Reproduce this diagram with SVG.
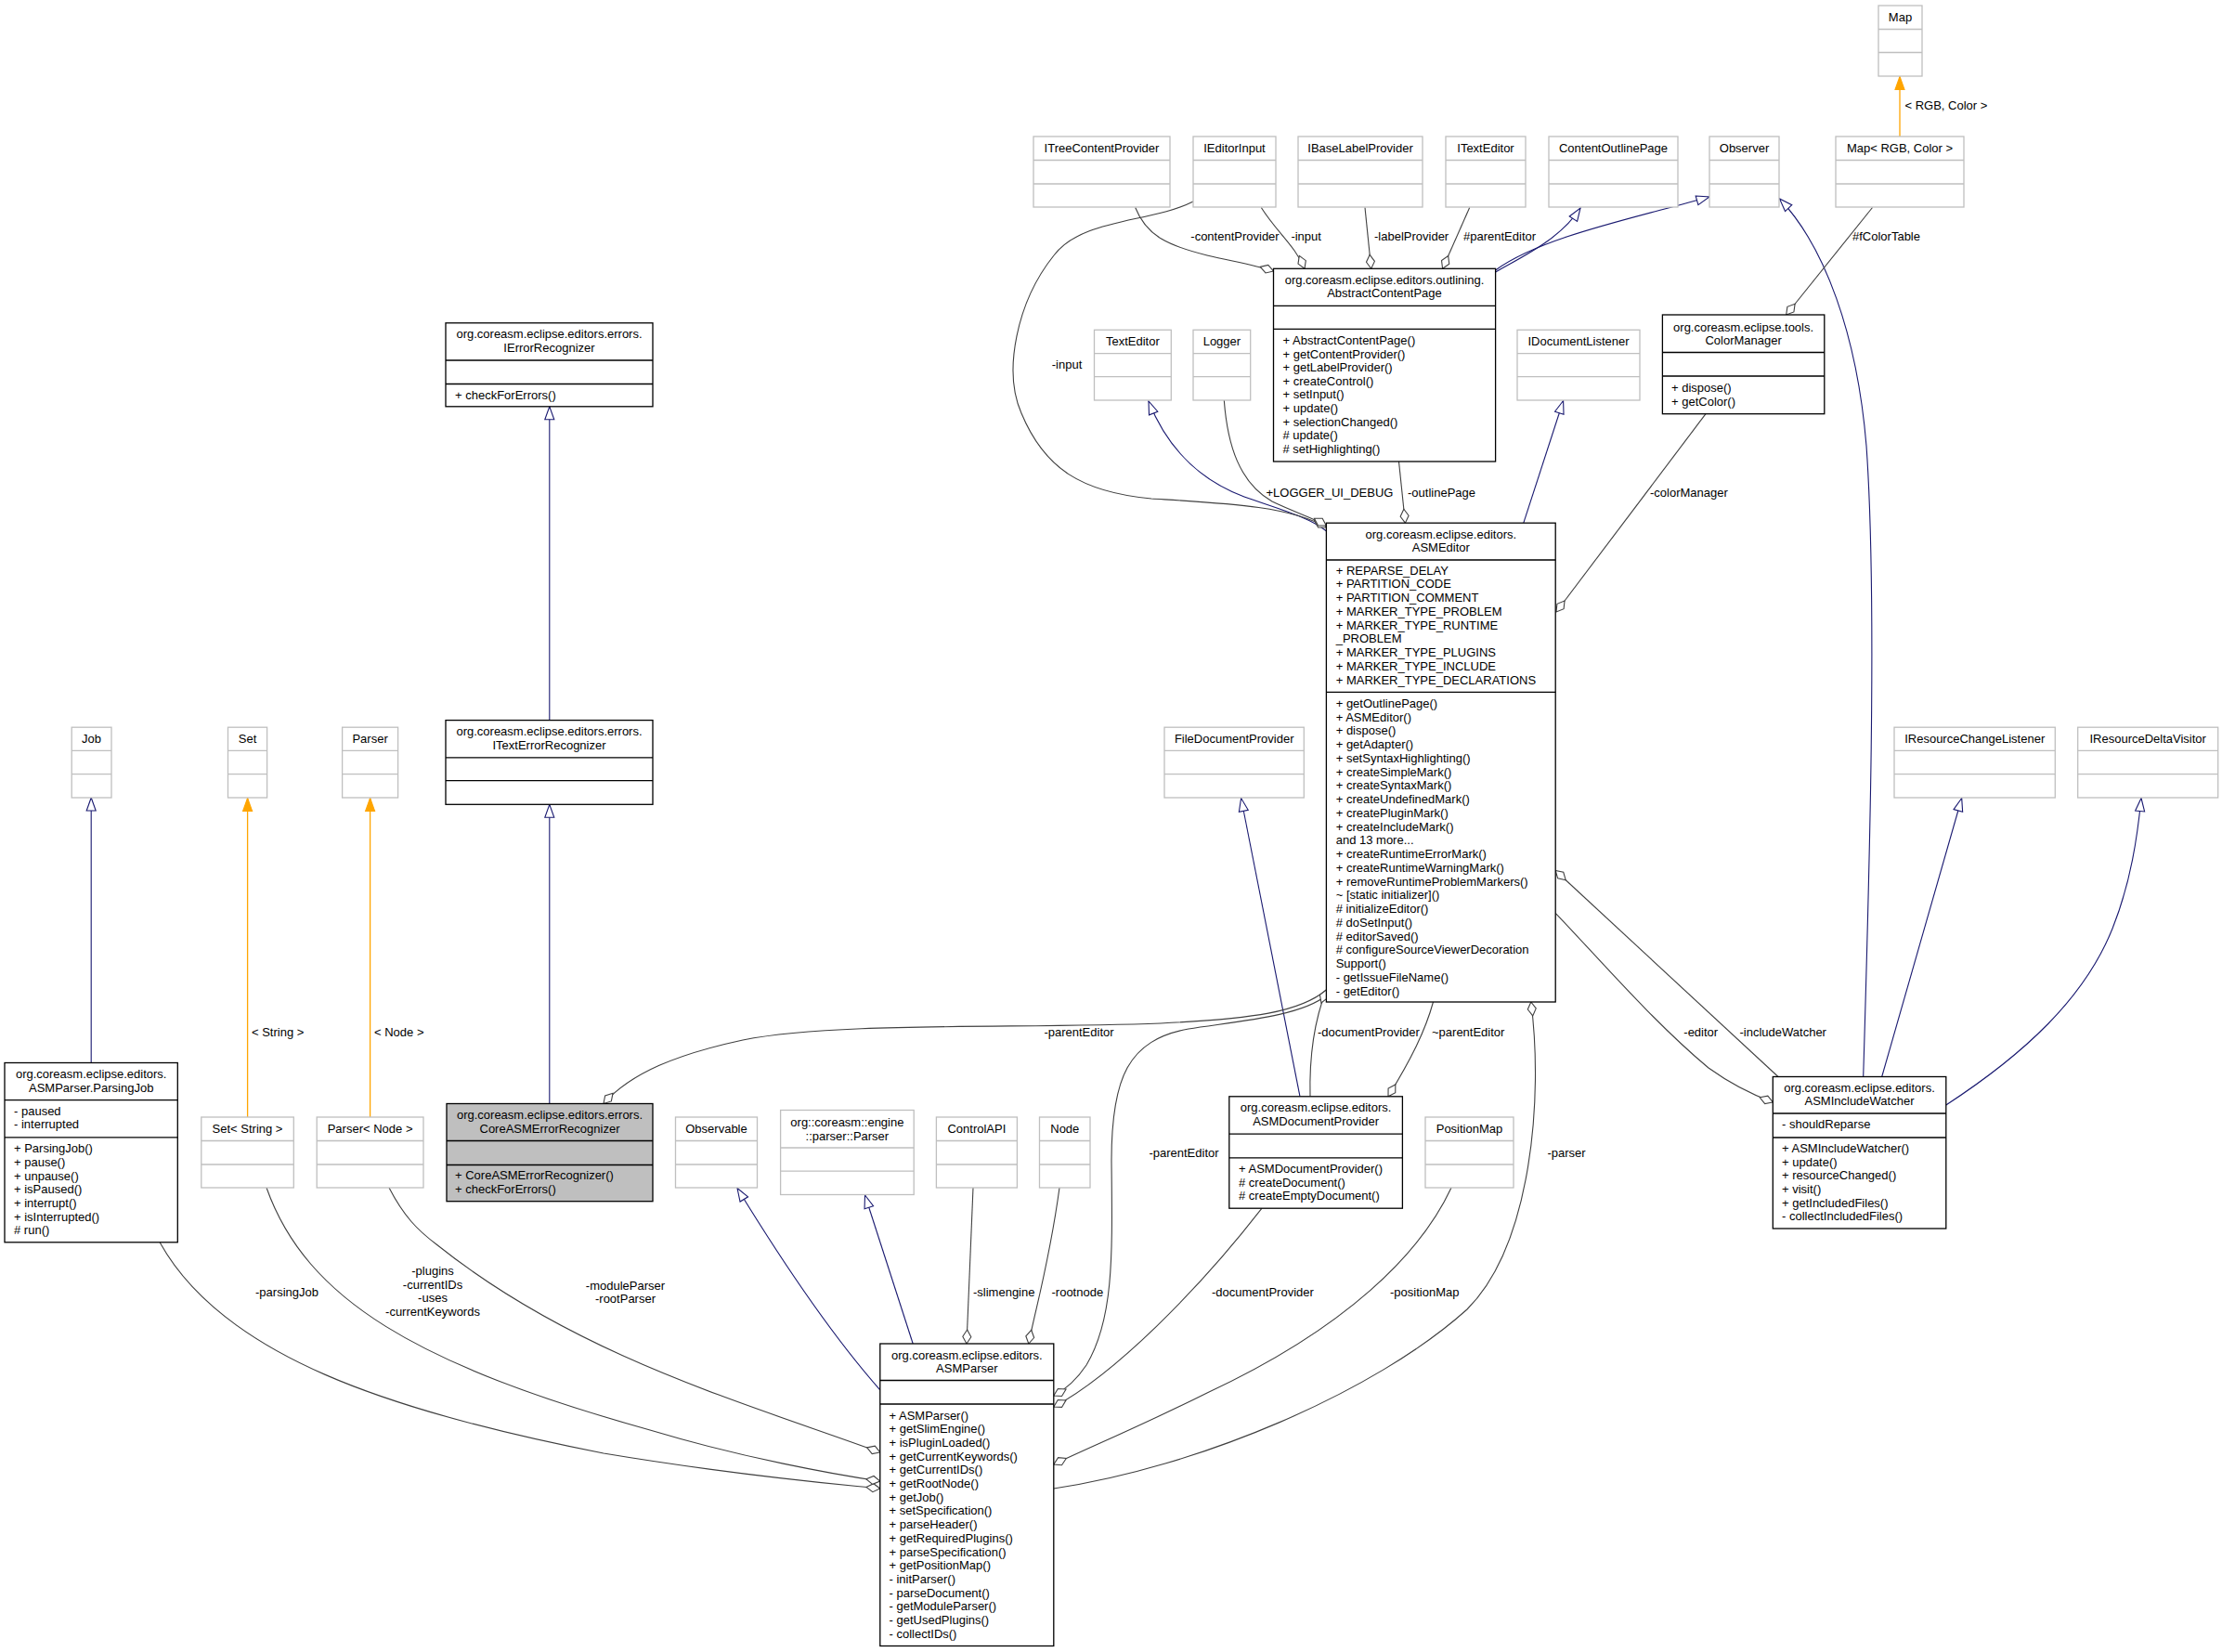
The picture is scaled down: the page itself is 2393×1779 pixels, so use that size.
<svg xmlns="http://www.w3.org/2000/svg" width="2393" height="1779" viewBox="0 0 2393 1779">
<style>
text { font-family: "Liberation Sans", Arial, sans-serif; font-size: 13px; fill: #000; }
.hd { text-anchor: middle; }
.mid { text-anchor: middle; }
.ext rect, .ext line { stroke: #bfbfbf; stroke-width: 1.3; fill: #fff; }
.cls rect, .cls line { stroke: #000; stroke-width: 1.3; fill: #fff; }
.cls rect.sel { fill: #bfbfbf; }
.assoc { stroke: #404040; stroke-width: 1.1; fill: none; marker-end: url(#dia); }
.inh { stroke: #191970; stroke-width: 1.1; fill: none; marker-end: url(#tri); }
.tpl { stroke: #FFA500; stroke-width: 1.3; fill: none; marker-end: url(#otri); }
</style>
<defs>
<marker id="tri" markerUnits="userSpaceOnUse" viewBox="0 0 16 12" markerWidth="16" markerHeight="12" refX="15" refY="6" orient="auto" overflow="visible"><path d="M1,1 L15,6 L1,11 Z" fill="#fff" stroke="#191970" stroke-width="1.1"/></marker>
<marker id="otri" markerUnits="userSpaceOnUse" viewBox="0 0 16 12" markerWidth="16" markerHeight="12" refX="15" refY="6" orient="auto" overflow="visible"><path d="M1,1 L15,6 L1,11 Z" fill="#FFA500" stroke="#FFA500" stroke-width="1.1"/></marker>
<marker id="dia" markerUnits="userSpaceOnUse" viewBox="0 0 17 11" markerWidth="17" markerHeight="11" refX="16" refY="5.5" orient="auto" overflow="visible"><path d="M1,5.5 L8.5,1 L16,5.5 L8.5,10 Z" fill="#fff" stroke="#404040" stroke-width="1.1"/></marker>
</defs>
<rect width="2393" height="1779" fill="#fff"/>

<g id="edges">
<!-- inheritance -->
<path class="inh" d="M1610.6,293 C1640,276 1680,258 1702,224"/>
<path class="inh" d="M1610.6,291 C1660,255 1760,235 1841,212"/>
<path class="inh" d="M1428.3,571.7 C1410,557 1380,549 1340,535 C1300,520 1260,490 1237,432"/>
<path class="inh" d="M1640.8,563.2 L1683.6,431.5"/>
<path class="inh" d="M591.8,1188.5 L591.8,866.3"/>
<path class="inh" d="M591.8,775.6 L591.8,437.8"/>
<path class="inh" d="M98.2,1144.5 L98.2,859"/>
<path class="inh" d="M1400,1180.8 L1336.6,859.5"/>
<path class="inh" d="M947.8,1496.8 Q880,1420 794,1279.5"/>
<path class="inh" d="M983.2,1447 L931.5,1287"/>
<path class="inh" d="M2006.7,1159.5 C2013,950 2022,650 2010,480 C2000,360 1965,265 1916.5,214"/>
<path class="inh" d="M2026.7,1159.5 L2112.7,859.5"/>
<path class="inh" d="M2095.8,1190 C2180,1135 2245,1075 2275,1000 C2295,950 2302,900 2306,859.5"/>
<!-- template -->
<path class="tpl" d="M266.6,1203 L266.6,859.5"/>
<path class="tpl" d="M398.6,1203 L398.6,859.5"/>
<path class="tpl" d="M2046,147 L2046,82.5"/>
<!-- associations -->
<path class="assoc" d="M1222.7,223.5 C1235,255 1260,265 1300,275 C1330,282 1350,285 1371.5,292"/>
<path class="assoc" d="M1358.3,223.5 C1375,250 1395,265 1405,289.3"/>
<path class="assoc" d="M1470,223.5 L1476.7,289.3"/>
<path class="assoc" d="M1582.7,223.5 L1553.6,289.3"/>
<path class="assoc" d="M2016.5,223.5 L1923.7,339"/>
<path class="assoc" d="M1285,217 C1240,240 1165,235 1135,275 C1095,325 1080,400 1100,445 C1125,505 1165,530 1240,537 C1320,542 1390,545 1428.3,568"/>
<path class="assoc" d="M1318.3,431 C1322,480 1335,520 1370,540 C1395,552 1415,558 1428.3,566"/>
<path class="assoc" d="M1506.5,497 L1513.4,563.2"/>
<path class="assoc" d="M1837,445.7 L1676,659"/>
<path class="assoc" d="M1428.4,1066 C1400,1090 1350,1097 1250,1102 C1100,1108 900,1100 800,1120 C730,1135 680,1155 650,1188.5"/>
<path class="assoc" d="M1428.4,1072 C1400,1095 1330,1100 1280,1108 C1215,1120 1197,1160 1197,1250 C1198,1350 1200,1420 1170,1470 C1160,1485 1150,1495 1134.8,1503"/>
<path class="assoc" d="M1411,1180.8 C1410,1140 1415,1100 1428.4,1066"/>
<path class="assoc" d="M1543.5,1079 C1535,1110 1520,1140 1495,1180.8"/>
<path class="assoc" d="M1134.8,1603 C1290,1580 1480,1500 1580,1410 C1650,1340 1662,1180 1648.8,1079"/>
<path class="assoc" d="M1915,1159.5 L1675.2,937.5"/>
<path class="assoc" d="M1675.2,983.3 C1720,1030 1780,1100 1840,1150 C1865,1168 1885,1178 1909.3,1187"/>
<path class="assoc" d="M1359,1301.2 C1290,1390 1200,1480 1134.8,1515"/>
<path class="assoc" d="M1563,1279 C1530,1350 1450,1430 1300,1500 C1230,1535 1170,1560 1134.8,1577"/>
<path class="assoc" d="M1048,1279 L1041,1447"/>
<path class="assoc" d="M1141,1279 C1130,1360 1115,1410 1107.8,1447"/>
<path class="assoc" d="M172.2,1338 C240,1460 420,1520 650,1565 C800,1590 900,1598 947.8,1603"/>
<path class="assoc" d="M287,1279 C330,1400 450,1470 700,1540 C800,1570 900,1588 947.8,1595"/>
<path class="assoc" d="M419,1279 C435,1310 450,1325 470,1340 C620,1460 800,1510 947.8,1564"/>
<!-- labels -->
<text x="1282.3" y="259.2">-contentProvider</text>
<text x="1390.4" y="259.2">-input</text>
<text x="1480" y="259.2">-labelProvider</text>
<text x="1576" y="259.2">#parentEditor</text>
<text x="1995" y="259.2">#fColorTable</text>
<text x="2051.5" y="117.5">&lt; RGB, Color &gt;</text>
<text class="mid" x="1149" y="397">-input</text>
<text x="1363.5" y="534.5">+LOGGER_UI_DEBUG</text>
<text x="1516" y="534.5">-outlinePage</text>
<text x="1777" y="534.5">-colorManager</text>
<text x="271" y="1115.5">&lt; String &gt;</text>
<text x="403" y="1115.5">&lt; Node &gt;</text>
<text class="mid" x="1162" y="1115.5">-parentEditor</text>
<text x="1419" y="1115.5">-documentProvider</text>
<text x="1542" y="1115.5">~parentEditor</text>
<text x="1813.3" y="1115.5">-editor</text>
<text x="1873.5" y="1115.5">-includeWatcher</text>
<text class="mid" x="1275" y="1245.5">-parentEditor</text>
<text x="1666.5" y="1245.5">-parser</text>
<text x="1048" y="1395.5">-slimengine</text>
<text x="1132.5" y="1395.5">-rootnode</text>
<text x="1305" y="1395.5">-documentProvider</text>
<text x="1497" y="1395.5">-positionMap</text>
<text class="mid" x="309" y="1395.5">-parsingJob</text>
<text class="mid" x="466"><tspan x="466" y="1373">-plugins</tspan><tspan x="466" y="1387.7">-currentIDs</tspan><tspan x="466" y="1402.3">-uses</tspan><tspan x="466" y="1417">-currentKeywords</tspan></text>
<text class="mid" x="673.5"><tspan x="673.5" y="1388.5">-moduleParser</tspan><tspan x="673.5" y="1403">-rootParser</tspan></text>
</g>

<!-- external nodes -->
<g id="n_Map" class="ext"><rect x="2023" y="6" width="47" height="76"/><line x1="2023" y1="31.5" x2="2070" y2="31.5"/><line x1="2023" y1="56.5" x2="2070" y2="56.5"/><text class="hd" x="2046.5" y="22.5">Map</text></g>
<g id="n_MapRGB" class="ext"><rect x="1977" y="147" width="138" height="76"/><line x1="1977" y1="172.5" x2="2115" y2="172.5"/><line x1="1977" y1="198" x2="2115" y2="198"/><text class="hd" x="2046" y="163.5">Map&lt; RGB, Color &gt;</text></g>
<g id="n_ITreeContentProvider" class="ext"><rect x="1113" y="147" width="147" height="76"/><line x1="1113" y1="172.5" x2="1260" y2="172.5"/><line x1="1113" y1="198" x2="1260" y2="198"/><text class="hd" x="1186.5" y="163.5">ITreeContentProvider</text></g>
<g id="n_IEditorInput" class="ext"><rect x="1285" y="147" width="89" height="76"/><line x1="1285" y1="172.5" x2="1374" y2="172.5"/><line x1="1285" y1="198" x2="1374" y2="198"/><text class="hd" x="1329.5" y="163.5">IEditorInput</text></g>
<g id="n_IBaseLabelProvider" class="ext"><rect x="1398" y="147" width="134" height="76"/><line x1="1398" y1="172.5" x2="1532" y2="172.5"/><line x1="1398" y1="198" x2="1532" y2="198"/><text class="hd" x="1465" y="163.5">IBaseLabelProvider</text></g>
<g id="n_ITextEditor" class="ext"><rect x="1557" y="147" width="86" height="76"/><line x1="1557" y1="172.5" x2="1643" y2="172.5"/><line x1="1557" y1="198" x2="1643" y2="198"/><text class="hd" x="1600" y="163.5">ITextEditor</text></g>
<g id="n_ContentOutlinePage" class="ext"><rect x="1668" y="147" width="139" height="76"/><line x1="1668" y1="172.5" x2="1807" y2="172.5"/><line x1="1668" y1="198" x2="1807" y2="198"/><text class="hd" x="1737.5" y="163.5">ContentOutlinePage</text></g>
<g id="n_Observer" class="ext"><rect x="1841" y="147" width="75" height="76"/><line x1="1841" y1="172.5" x2="1916" y2="172.5"/><line x1="1841" y1="198" x2="1916" y2="198"/><text class="hd" x="1878.5" y="163.5">Observer</text></g>
<g id="n_TextEditor" class="ext"><rect x="1178.5" y="355.3" width="82.8" height="75.7"/><line x1="1178.5" y1="380.7" x2="1261.3" y2="380.7"/><line x1="1178.5" y1="405.7" x2="1261.3" y2="405.7"/><text class="hd" x="1219.9" y="372">TextEditor</text></g>
<g id="n_Logger" class="ext"><rect x="1285" y="355.3" width="61.7" height="75.7"/><line x1="1285" y1="380.7" x2="1346.7" y2="380.7"/><line x1="1285" y1="405.7" x2="1346.7" y2="405.7"/><text class="hd" x="1315.9" y="372">Logger</text></g>
<g id="n_IDocumentListener" class="ext"><rect x="1634" y="355.3" width="132" height="75.7"/><line x1="1634" y1="380.7" x2="1766" y2="380.7"/><line x1="1634" y1="405.7" x2="1766" y2="405.7"/><text class="hd" x="1700" y="372">IDocumentListener</text></g>
<g id="n_Job" class="ext"><rect x="77.2" y="783.2" width="42.8" height="75.8"/><line x1="77.2" y1="808.4" x2="120" y2="808.4"/><line x1="77.2" y1="833.7" x2="120" y2="833.7"/><text class="hd" x="98.6" y="799.7">Job</text></g>
<g id="n_Set" class="ext"><rect x="245.5" y="783.2" width="42.1" height="75.8"/><line x1="245.5" y1="808.4" x2="287.6" y2="808.4"/><line x1="245.5" y1="833.7" x2="287.6" y2="833.7"/><text class="hd" x="266.6" y="799.7">Set</text></g>
<g id="n_Parser" class="ext"><rect x="368.6" y="783.2" width="60" height="75.8"/><line x1="368.6" y1="808.4" x2="428.6" y2="808.4"/><line x1="368.6" y1="833.7" x2="428.6" y2="833.7"/><text class="hd" x="398.6" y="799.7">Parser</text></g>
<g id="n_FileDocumentProvider" class="ext"><rect x="1254" y="783.2" width="150.3" height="75.8"/><line x1="1254" y1="808.4" x2="1404.3" y2="808.4"/><line x1="1254" y1="833.7" x2="1404.3" y2="833.7"/><text class="hd" x="1329.2" y="799.7">FileDocumentProvider</text></g>
<g id="n_IResourceChangeListener" class="ext"><rect x="2040" y="783.2" width="173.3" height="75.8"/><line x1="2040" y1="808.4" x2="2213.3" y2="808.4"/><line x1="2040" y1="833.7" x2="2213.3" y2="833.7"/><text class="hd" x="2126.7" y="799.7">IResourceChangeListener</text></g>
<g id="n_IResourceDeltaVisitor" class="ext"><rect x="2237.7" y="783.2" width="151" height="75.8"/><line x1="2237.7" y1="808.4" x2="2388.7" y2="808.4"/><line x1="2237.7" y1="833.7" x2="2388.7" y2="833.7"/><text class="hd" x="2313.2" y="799.7">IResourceDeltaVisitor</text></g>
<g id="n_SetString" class="ext"><rect x="216.8" y="1203" width="99.5" height="76"/><line x1="216.8" y1="1228.5" x2="316.3" y2="1228.5"/><line x1="216.8" y1="1254" x2="316.3" y2="1254"/><text class="hd" x="266.5" y="1219.5">Set&lt; String &gt;</text></g>
<g id="n_ParserNode" class="ext"><rect x="341.2" y="1203" width="114.8" height="76"/><line x1="341.2" y1="1228.5" x2="456" y2="1228.5"/><line x1="341.2" y1="1254" x2="456" y2="1254"/><text class="hd" x="398.6" y="1219.5">Parser&lt; Node &gt;</text></g>
<g id="n_Observable" class="ext"><rect x="727.5" y="1203" width="88" height="76"/><line x1="727.5" y1="1228.5" x2="815.5" y2="1228.5"/><line x1="727.5" y1="1254" x2="815.5" y2="1254"/><text class="hd" x="771.5" y="1219.5">Observable</text></g>
<g id="n_EngineParser" class="ext"><rect x="840.6" y="1195.5" width="143.6" height="91"/><line x1="840.6" y1="1236" x2="984.2" y2="1236"/><line x1="840.6" y1="1261.2" x2="984.2" y2="1261.2"/><text class="hd" x="912.4" y="1212.5">org::coreasm::engine</text><text class="hd" x="912.4" y="1227.5">::parser::Parser</text></g>
<g id="n_ControlAPI" class="ext"><rect x="1008.4" y="1203" width="87" height="76"/><line x1="1008.4" y1="1228.5" x2="1095.4" y2="1228.5"/><line x1="1008.4" y1="1254" x2="1095.4" y2="1254"/><text class="hd" x="1051.9" y="1219.5">ControlAPI</text></g>
<g id="n_Node" class="ext"><rect x="1119.5" y="1203" width="54.5" height="76"/><line x1="1119.5" y1="1228.5" x2="1174" y2="1228.5"/><line x1="1119.5" y1="1254" x2="1174" y2="1254"/><text class="hd" x="1146.8" y="1219.5">Node</text></g>
<g id="n_PositionMap" class="ext"><rect x="1535" y="1203" width="95" height="76"/><line x1="1535" y1="1228.5" x2="1630" y2="1228.5"/><line x1="1535" y1="1254" x2="1630" y2="1254"/><text class="hd" x="1582.5" y="1219.5">PositionMap</text></g>

<!-- documented classes -->
<g id="n_AbstractContentPage" class="cls"><rect x="1371.5" y="289.3" width="239.1" height="207.7"/><line x1="1371.5" y1="329.3" x2="1610.6" y2="329.3"/><line x1="1371.5" y1="354.3" x2="1610.6" y2="354.3"/>
<text class="hd" x="1491" y="305.5">org.coreasm.eclipse.editors.outlining.</text><text class="hd" x="1491" y="320">AbstractContentPage</text>
<text><tspan x="1381.5" y="371">+ AbstractContentPage()</tspan><tspan x="1381.5" y="385.6">+ getContentProvider()</tspan><tspan x="1381.5" y="400.2">+ getLabelProvider()</tspan><tspan x="1381.5" y="414.8">+ createControl()</tspan><tspan x="1381.5" y="429.4">+ setInput()</tspan><tspan x="1381.5" y="444">+ update()</tspan><tspan x="1381.5" y="458.6">+ selectionChanged()</tspan><tspan x="1381.5" y="473.2"># update()</tspan><tspan x="1381.5" y="487.8"># setHighlighting()</tspan></text></g>

<g id="n_ColorManager" class="cls"><rect x="1790.4" y="339" width="174.4" height="106.7"/><line x1="1790.4" y1="379.5" x2="1964.8" y2="379.5"/><line x1="1790.4" y1="405" x2="1964.8" y2="405"/>
<text class="hd" x="1877.6" y="356.8">org.coreasm.eclipse.tools.</text><text class="hd" x="1877.6" y="371.2">ColorManager</text>
<text><tspan x="1800" y="421.8">+ dispose()</tspan><tspan x="1800" y="436.5">+ getColor()</tspan></text></g>

<g id="n_IErrorRecognizer" class="cls"><rect x="480" y="347.8" width="223" height="90"/><line x1="480" y1="388" x2="703" y2="388"/><line x1="480" y1="413.5" x2="703" y2="413.5"/>
<text class="hd" x="591.5" y="363.5">org.coreasm.eclipse.editors.errors.</text><text class="hd" x="591.5" y="378.5">IErrorRecognizer</text>
<text x="490" y="430">+ checkForErrors()</text></g>

<g id="n_ITextErrorRecognizer" class="cls"><rect x="480" y="775.6" width="223" height="90.7"/><line x1="480" y1="815.8" x2="703" y2="815.8"/><line x1="480" y1="840.7" x2="703" y2="840.7"/>
<text class="hd" x="591.5" y="792">org.coreasm.eclipse.editors.errors.</text><text class="hd" x="591.5" y="807">ITextErrorRecognizer</text></g>

<g id="n_ASMEditor" class="cls"><rect x="1428.4" y="563.2" width="246.8" height="515.8"/><line x1="1428.4" y1="603" x2="1675.2" y2="603"/><line x1="1428.4" y1="745.3" x2="1675.2" y2="745.3"/>
<text class="hd" x="1551.8" y="579.5">org.coreasm.eclipse.editors.</text><text class="hd" x="1551.8" y="594">ASMEditor</text>
<text><tspan x="1438.7" y="618.5">+ REPARSE_DELAY</tspan><tspan x="1438.7" y="633.25">+ PARTITION_CODE</tspan><tspan x="1438.7" y="648">+ PARTITION_COMMENT</tspan><tspan x="1438.7" y="662.75">+ MARKER_TYPE_PROBLEM</tspan><tspan x="1438.7" y="677.5">+ MARKER_TYPE_RUNTIME</tspan><tspan x="1438.7" y="692.25">_PROBLEM</tspan><tspan x="1438.7" y="707">+ MARKER_TYPE_PLUGINS</tspan><tspan x="1438.7" y="721.75">+ MARKER_TYPE_INCLUDE</tspan><tspan x="1438.7" y="736.5">+ MARKER_TYPE_DECLARATIONS</tspan></text>
<text><tspan x="1438.7" y="762">+ getOutlinePage()</tspan><tspan x="1438.7" y="776.74">+ ASMEditor()</tspan><tspan x="1438.7" y="791.48">+ dispose()</tspan><tspan x="1438.7" y="806.22">+ getAdapter()</tspan><tspan x="1438.7" y="820.96">+ setSyntaxHighlighting()</tspan><tspan x="1438.7" y="835.7">+ createSimpleMark()</tspan><tspan x="1438.7" y="850.44">+ createSyntaxMark()</tspan><tspan x="1438.7" y="865.18">+ createUndefinedMark()</tspan><tspan x="1438.7" y="879.92">+ createPluginMark()</tspan><tspan x="1438.7" y="894.66">+ createIncludeMark()</tspan><tspan x="1438.7" y="909.4">and 13 more...</tspan><tspan x="1438.7" y="924.14">+ createRuntimeErrorMark()</tspan><tspan x="1438.7" y="938.88">+ createRuntimeWarningMark()</tspan><tspan x="1438.7" y="953.62">+ removeRuntimeProblemMarkers()</tspan><tspan x="1438.7" y="968.36">~ [static initializer]()</tspan><tspan x="1438.7" y="983.1"># initializeEditor()</tspan><tspan x="1438.7" y="997.84"># doSetInput()</tspan><tspan x="1438.7" y="1012.58"># editorSaved()</tspan><tspan x="1438.7" y="1027.32"># configureSourceViewerDecoration</tspan><tspan x="1438.7" y="1042.06">Support()</tspan><tspan x="1438.7" y="1056.8">- getIssueFileName()</tspan><tspan x="1438.7" y="1071.54">- getEditor()</tspan></text></g>

<g id="n_ParsingJob" class="cls"><rect x="5" y="1144.5" width="186.3" height="193.3"/><line x1="5" y1="1184.7" x2="191.3" y2="1184.7"/><line x1="5" y1="1224.9" x2="191.3" y2="1224.9"/>
<text class="hd" x="98.2" y="1161.3">org.coreasm.eclipse.editors.</text><text class="hd" x="98.2" y="1175.5">ASMParser.ParsingJob</text>
<text><tspan x="15" y="1201">- paused</tspan><tspan x="15" y="1215.4">- interrupted</tspan></text>
<text><tspan x="15" y="1241.2">+ ParsingJob()</tspan><tspan x="15" y="1255.9">+ pause()</tspan><tspan x="15" y="1270.6">+ unpause()</tspan><tspan x="15" y="1285.3">+ isPaused()</tspan><tspan x="15" y="1300">+ interrupt()</tspan><tspan x="15" y="1314.7">+ isInterrupted()</tspan><tspan x="15" y="1329.4"># run()</tspan></text></g>

<g id="n_CoreASMErrorRecognizer" class="cls"><rect class="sel" x="481" y="1188.5" width="222" height="105.2"/><line x1="481" y1="1228.5" x2="703" y2="1228.5"/><line x1="481" y1="1254.5" x2="703" y2="1254.5"/>
<text class="hd" x="592" y="1205.2">org.coreasm.eclipse.editors.errors.</text><text class="hd" x="592" y="1219.7">CoreASMErrorRecognizer</text>
<text><tspan x="490" y="1270">+ CoreASMErrorRecognizer()</tspan><tspan x="490" y="1285">+ checkForErrors()</tspan></text></g>

<g id="n_ASMDocumentProvider" class="cls"><rect x="1323.8" y="1180.8" width="186.6" height="120.4"/><line x1="1323.8" y1="1221.2" x2="1510.4" y2="1221.2"/><line x1="1323.8" y1="1246.8" x2="1510.4" y2="1246.8"/>
<text class="hd" x="1417.1" y="1197.3">org.coreasm.eclipse.editors.</text><text class="hd" x="1417.1" y="1211.5">ASMDocumentProvider</text>
<text><tspan x="1334" y="1263.2">+ ASMDocumentProvider()</tspan><tspan x="1334" y="1277.7"># createDocument()</tspan><tspan x="1334" y="1292.3"># createEmptyDocument()</tspan></text></g>

<g id="n_ASMIncludeWatcher" class="cls"><rect x="1909.3" y="1159.5" width="186.5" height="163.5"/><line x1="1909.3" y1="1199" x2="2095.8" y2="1199"/><line x1="1909.3" y1="1225" x2="2095.8" y2="1225"/>
<text class="hd" x="2002.5" y="1176.2">org.coreasm.eclipse.editors.</text><text class="hd" x="2002.5" y="1190.2">ASMIncludeWatcher</text>
<text x="1919" y="1214.8">- shouldReparse</text>
<text><tspan x="1919" y="1241.2">+ ASMIncludeWatcher()</tspan><tspan x="1919" y="1255.8">+ update()</tspan><tspan x="1919" y="1270.4">+ resourceChanged()</tspan><tspan x="1919" y="1285">+ visit()</tspan><tspan x="1919" y="1299.6">+ getIncludedFiles()</tspan><tspan x="1919" y="1314.2">- collectIncludedFiles()</tspan></text></g>

<g id="n_ASMParser" class="cls"><rect x="947.8" y="1447" width="187" height="325.5"/><line x1="947.8" y1="1486.5" x2="1134.8" y2="1486.5"/><line x1="947.8" y1="1512" x2="1134.8" y2="1512"/>
<text class="hd" x="1041.3" y="1464">org.coreasm.eclipse.editors.</text><text class="hd" x="1041.3" y="1478">ASMParser</text>
<text><tspan x="957.5" y="1528.5">+ ASMParser()</tspan><tspan x="957.5" y="1543.2">+ getSlimEngine()</tspan><tspan x="957.5" y="1557.9">+ isPluginLoaded()</tspan><tspan x="957.5" y="1572.6">+ getCurrentKeywords()</tspan><tspan x="957.5" y="1587.3">+ getCurrentIDs()</tspan><tspan x="957.5" y="1602">+ getRootNode()</tspan><tspan x="957.5" y="1616.7">+ getJob()</tspan><tspan x="957.5" y="1631.4">+ setSpecification()</tspan><tspan x="957.5" y="1646.1">+ parseHeader()</tspan><tspan x="957.5" y="1660.8">+ getRequiredPlugins()</tspan><tspan x="957.5" y="1675.5">+ parseSpecification()</tspan><tspan x="957.5" y="1690.2">+ getPositionMap()</tspan><tspan x="957.5" y="1704.9">- initParser()</tspan><tspan x="957.5" y="1719.6">- parseDocument()</tspan><tspan x="957.5" y="1734.3">- getModuleParser()</tspan><tspan x="957.5" y="1749">- getUsedPlugins()</tspan><tspan x="957.5" y="1763.7">- collectIDs()</tspan></text></g>
</svg>
